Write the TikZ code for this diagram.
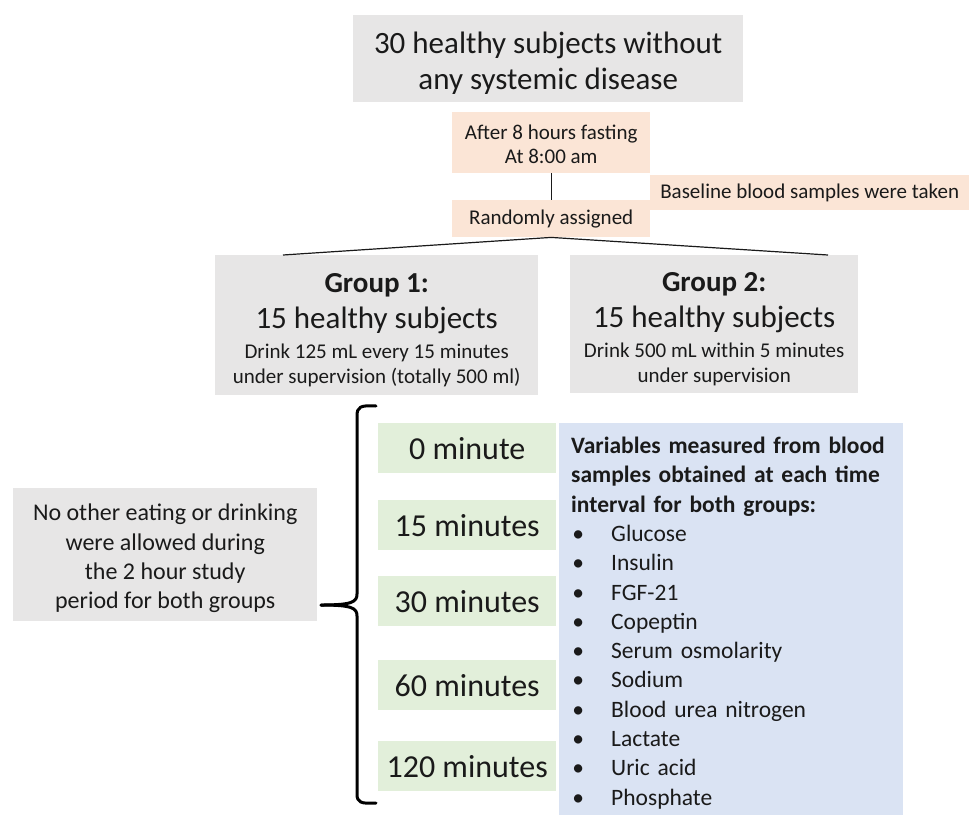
\documentclass[tikz,border=0pt]{standalone}
\usepackage{fontspec}
\setmainfont{Carlito}
\definecolor{boxgray}{HTML}{E7E6E6}
\definecolor{peach}{HTML}{FBE5D6}
\definecolor{lgreen}{HTML}{E2EFDA}
\definecolor{lblue}{HTML}{DAE3F3}
\definecolor{ink}{HTML}{1A1A1A}
\newcommand{\myfs}[2]{\fontsize{#1}{#2}\selectfont}
\newcommand{\upstrut}[1]{\rule{0pt}{#1}}
\begin{document}
\begin{tikzpicture}[x=1pt,y=-1pt,
  box/.style={anchor=north west, inner sep=0pt, align=center, text=ink},
  graybox/.style={box, fill=boxgray},
  peachbox/.style={box, fill=peach},
  greenbox/.style={box, fill=lgreen, minimum width=178pt, minimum height=50pt, font=\myfs{32}{36}},
  conn/.style={draw=ink, line width=1.2pt},
  bracestyle/.style={draw=black, line width=3pt, line cap=round, line join=round}]
\useasboundingbox (0,0) rectangle (969,815);

% top
\node[graybox, minimum width=390pt, minimum height=87pt, font=\myfs{31}{35}] (top) at (353,15)
  {\upstrut{30pt}30 healthy subjects without\\[1pt]any systemic disease};
\node[peachbox, minimum width=198pt, minimum height=61pt, font=\myfs{21}{24}] (fast) at (452,112)
  {\upstrut{17pt}After 8 hours fasting\\At 8:00 am};
\node[peachbox, minimum width=319pt, minimum height=35pt, font=\myfs{21}{24}] (base) at (650,175)
  {Baseline blood samples were taken};
\node[peachbox, minimum width=198pt, minimum height=37pt, font=\myfs{21}{24}] (rand) at (452,200)
  {Randomly assigned};

% groups
\node[graybox, minimum width=323pt, minimum height=140pt, font=\myfs{21}{25}] (g1) at (215,255)
  {{\myfs{29}{34}\bfseries\upstrut{29pt}Group 1:}\\[9.5pt]{\myfs{31}{36}15 healthy subjects}\\[5pt]
   Drink 125 mL every 15 minutes\\under supervision (totally 500 ml)};
\node[graybox, minimum width=288pt, minimum height=138pt, font=\myfs{21}{25}] (g2) at (570,255)
  {{\myfs{29}{34}\bfseries\upstrut{29pt}Group 2:}\\[9.5pt]{\myfs{31}{36}15 healthy subjects}\\[5pt]
   Drink 500 mL within 5 minutes\\under supervision};

\coordinate (g1t) at (283,255);
\coordinate (g2t) at (828,255);
\draw[conn] (fast.south) -- (rand.north);
\draw[conn] (rand.south) -- (g1t);
\draw[conn] (rand.south) -- (g2t);

% left note
\node[graybox, minimum width=304pt, minimum height=133pt, font=\myfs{24}{29.3}] (note) at (13,488)
  {\upstrut{24pt}No other eating or drinking\\were allowed during\\the 2 hour study\\period for both groups};

% brace
\coordinate (tip) at (321,605);
\draw[bracestyle] (376,406) .. controls (360,405) and (357,407) .. (357,416) -- (357,594)
  .. controls (357,602) and (352,605) .. (tip);
\draw[bracestyle] (tip) .. controls (352,605) and (357,608) .. (357,616) -- (357,794)
  .. controls (357,802) and (360,804) .. (376,803);

% time points
\node[greenbox] (t0) at (378,423) {0 minute};
\node[greenbox] (t15) at (378,500) {15 minutes};
\node[greenbox] (t30) at (378,576) {30 minutes};
\node[greenbox] (t60) at (378,660) {60 minutes};
\node[greenbox] (t120) at (378,741) {120 minutes};

% variables
\node[box, fill=lblue, align=left, minimum width=344pt, minimum height=392pt,
      text width=320pt, inner xsep=12pt, font=\myfs{23.5}{29.3}] (vars) at (559,423)
  {{\bfseries\upstrut{24pt}Variables measured from blood\\samples obtained at each time\\interval for both groups:}\\
   \makebox[14pt][c]{\textbullet}\hspace{26pt}Glucose\\
   \makebox[14pt][c]{\textbullet}\hspace{26pt}Insulin\\
   \makebox[14pt][c]{\textbullet}\hspace{26pt}FGF-21\\
   \makebox[14pt][c]{\textbullet}\hspace{26pt}Copeptin\\
   \makebox[14pt][c]{\textbullet}\hspace{26pt}Serum osmolarity\\
   \makebox[14pt][c]{\textbullet}\hspace{26pt}Sodium\\
   \makebox[14pt][c]{\textbullet}\hspace{26pt}Blood urea nitrogen\\
   \makebox[14pt][c]{\textbullet}\hspace{26pt}Lactate\\
   \makebox[14pt][c]{\textbullet}\hspace{26pt}Uric acid\\
   \makebox[14pt][c]{\textbullet}\hspace{26pt}Phosphate};
\end{tikzpicture}
\end{document}
